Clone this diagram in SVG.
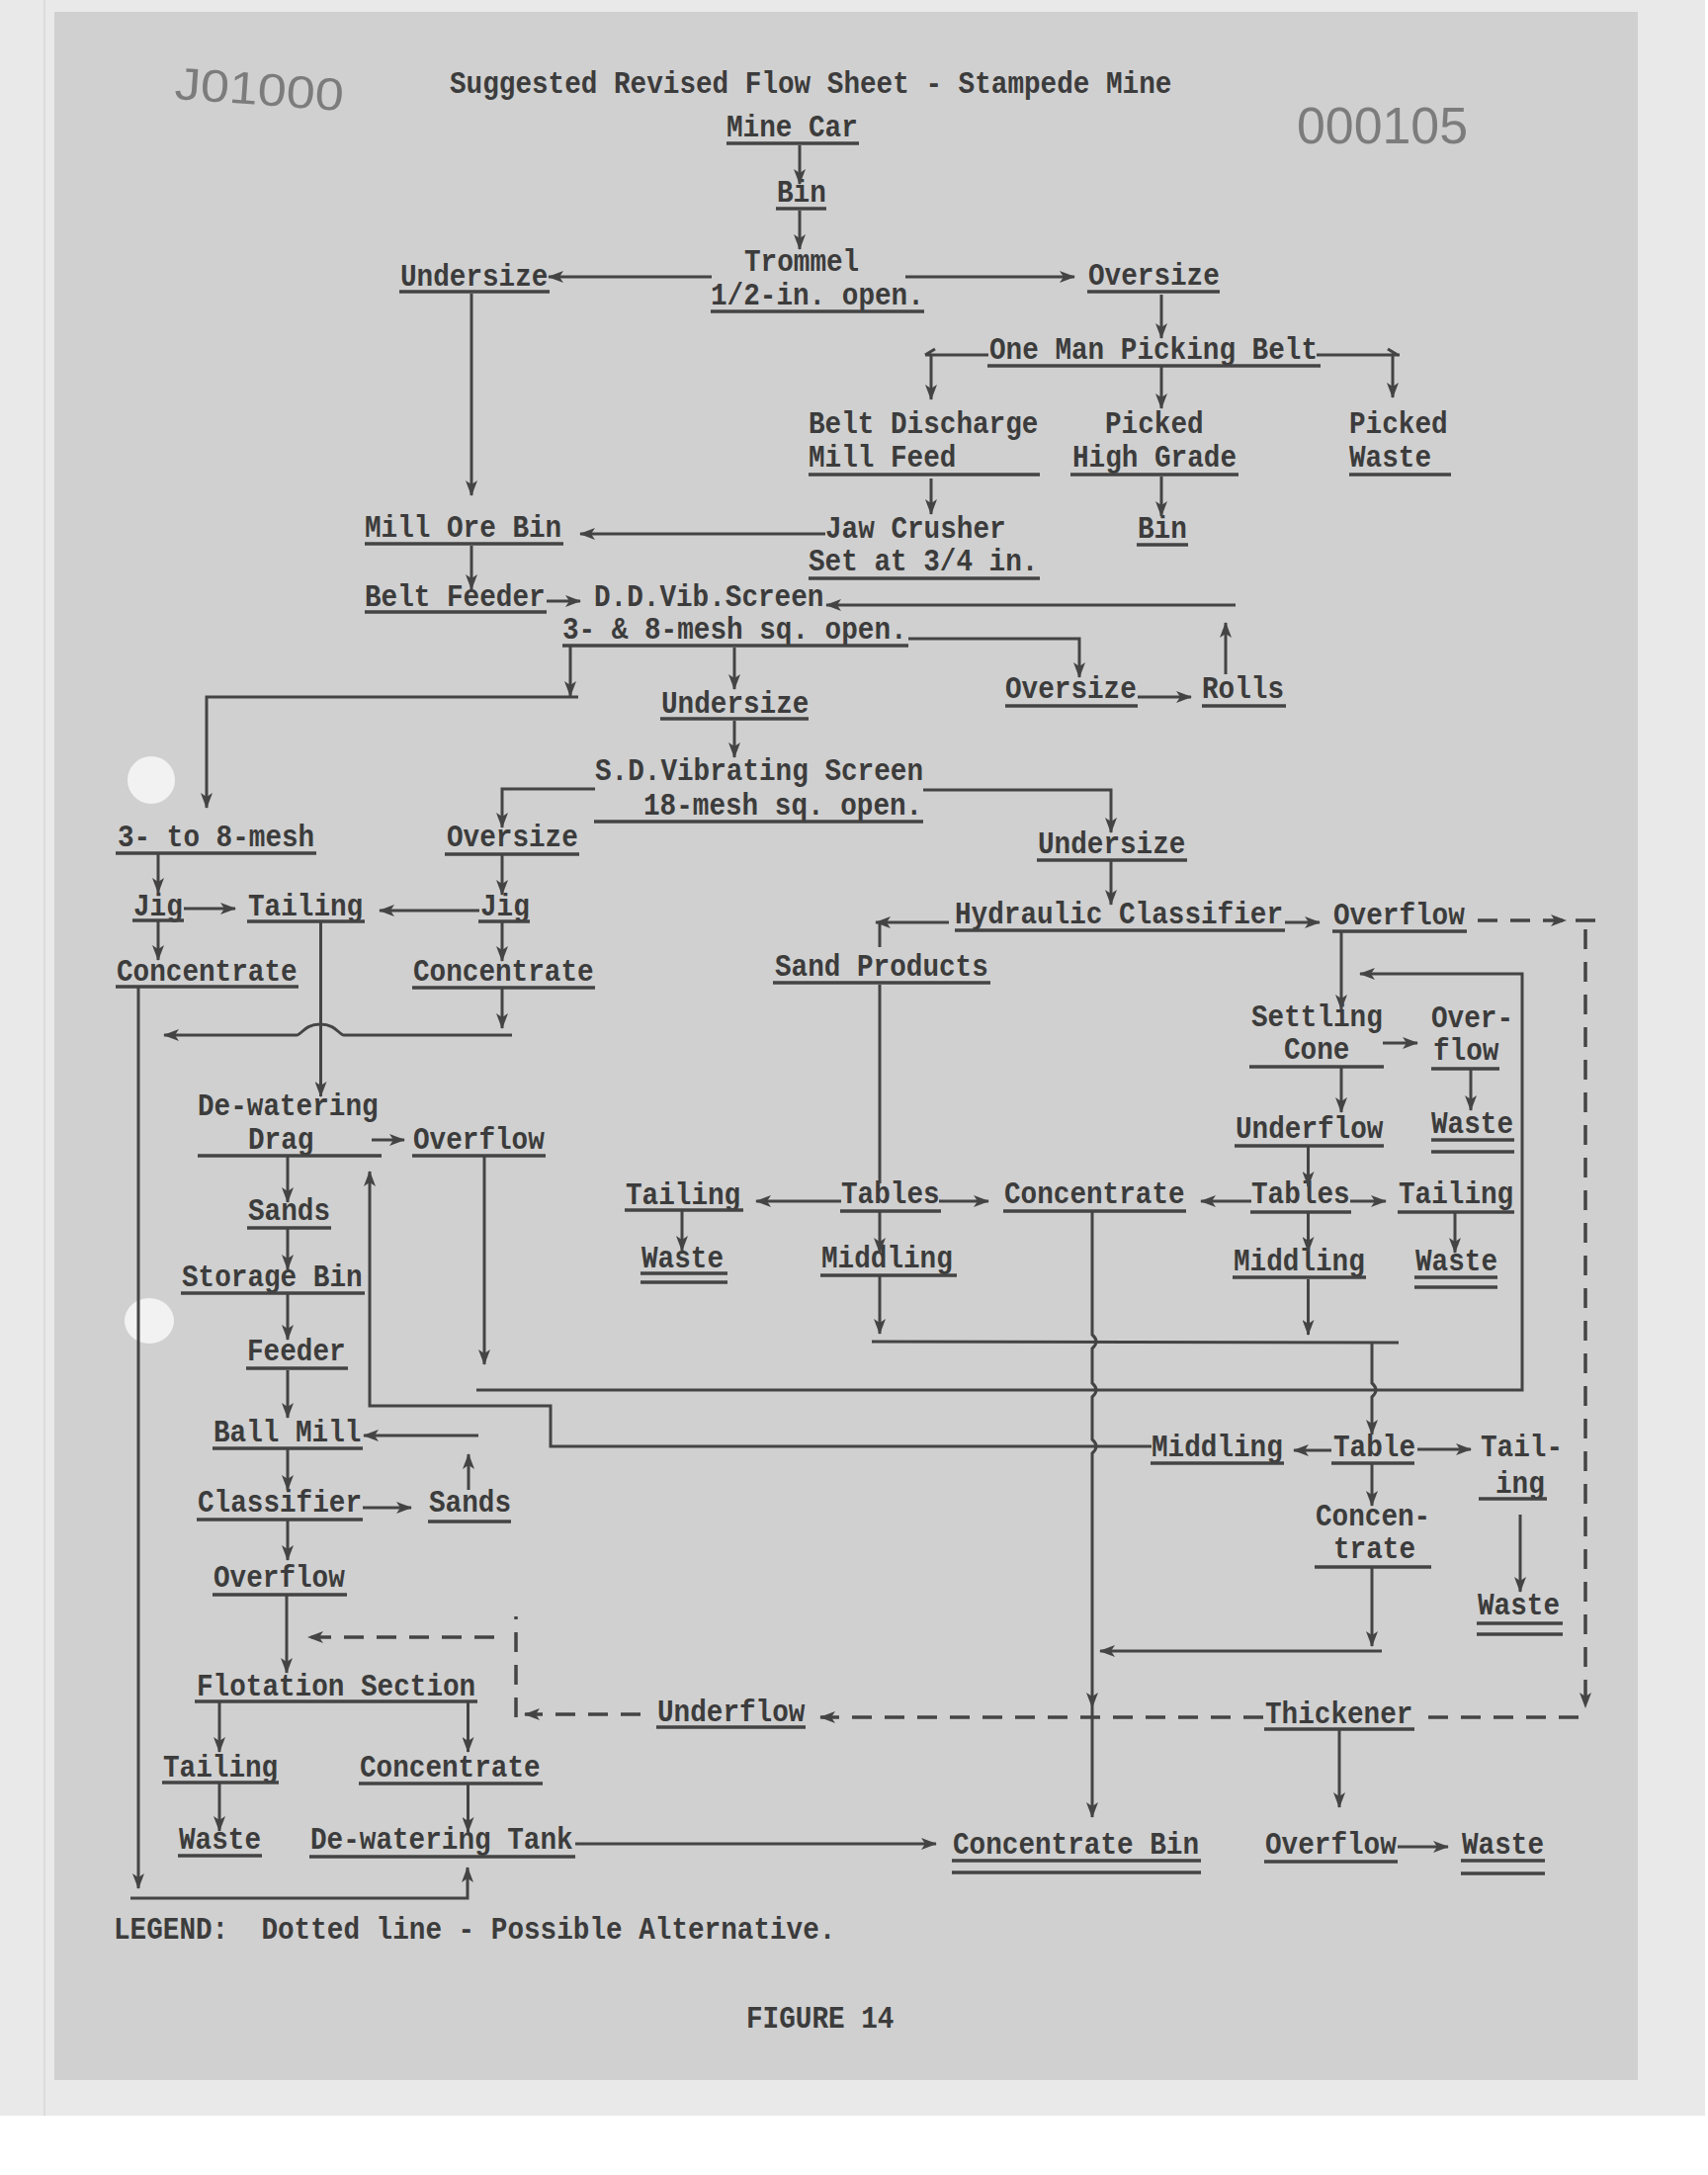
<svg xmlns="http://www.w3.org/2000/svg" width="1728" height="2200" viewBox="0 0 1728 2200">
<defs>
<style>
.t{font-family:"Liberation Mono","Courier New",monospace;font-size:31px;font-weight:bold;fill:#3c3c3c}
.u{stroke:#444;stroke-width:3.5}
.c{stroke:#444;stroke-width:3;fill:none}
.d{stroke:#444;stroke-width:3.5;fill:none;stroke-dasharray:20 13}
.ah{fill:#444}
.stamp{font-family:"Liberation Sans",Arial,sans-serif;fill:#7c7c7c}
</style>
<marker id="ah" viewBox="0 0 16 12" refX="15" refY="6" markerWidth="16" markerHeight="12" orient="auto" markerUnits="userSpaceOnUse">
<path d="M0,0 L16,6 L0,12 L4,6 z" fill="#444"/>
</marker>
</defs>

<g id="paper">
<rect x="0" y="0" width="1728" height="2200" fill="#ffffff"/>
<rect x="0" y="0" width="1725" height="2140" fill="#e9e9e9"/>
<line x1="45" y1="0" x2="45" y2="2140" stroke="#d6d6d6" stroke-width="1.5"/>
<rect x="55" y="12" width="1602" height="2092" fill="#d0d0d0"/>
<ellipse cx="153" cy="789" rx="24" ry="24" fill="#f2f2f2"/>
<ellipse cx="151" cy="1336" rx="25" ry="23" fill="#f2f2f2"/>
<text class="stamp" x="176" y="100" font-size="46" textLength="171" lengthAdjust="spacingAndGlyphs" transform="rotate(4 176 100)">J01000</text>
<text class="stamp" x="1312" y="145" font-size="52" textLength="173" lengthAdjust="spacingAndGlyphs">000105</text>
</g>

<g id="title"><text class="t" x="455" y="94" textLength="730.4" lengthAdjust="spacingAndGlyphs">Suggested Revised Flow Sheet - Stampede Mine</text></g>

<g id="n-minecar"><text class="t" x="735" y="138" textLength="132.8" lengthAdjust="spacingAndGlyphs">Mine Car</text><line class="u" x1="735" y1="145" x2="869" y2="145"/></g>
<g id="n-bin1"><text class="t" x="786" y="204" textLength="49.8" lengthAdjust="spacingAndGlyphs">Bin</text><line class="u" x1="785" y1="211" x2="836" y2="211"/></g>
<g id="n-trommel"><text class="t" x="753" y="274" textLength="116.2" lengthAdjust="spacingAndGlyphs">Trommel</text><text class="t" x="719" y="308" textLength="215.8" lengthAdjust="spacingAndGlyphs">1/2-in. open.</text><line class="u" x1="719" y1="315" x2="935" y2="315"/></g>
<g id="n-undersize1"><text class="t" x="405" y="289" textLength="149.4" lengthAdjust="spacingAndGlyphs">Undersize</text><line class="u" x1="404" y1="295" x2="556" y2="295"/></g>
<g id="n-oversize1"><text class="t" x="1101" y="288" textLength="132.8" lengthAdjust="spacingAndGlyphs">Oversize</text><line class="u" x1="1100" y1="295" x2="1234" y2="295"/></g>
<g id="n-picking"><text class="t" x="1001" y="363" textLength="332" lengthAdjust="spacingAndGlyphs">One Man Picking Belt</text><line class="u" x1="999" y1="370" x2="1336" y2="370"/></g>
<g id="n-beltdischarge"><text class="t" x="818" y="438" textLength="232.4" lengthAdjust="spacingAndGlyphs">Belt Discharge</text><text class="t" x="818" y="472" textLength="149.4" lengthAdjust="spacingAndGlyphs">Mill Feed</text><line class="u" x1="818" y1="480" x2="1052" y2="480"/></g>
<g id="n-highgrade"><text class="t" x="1118" y="438" textLength="99.6" lengthAdjust="spacingAndGlyphs">Picked</text><text class="t" x="1085" y="472" textLength="166" lengthAdjust="spacingAndGlyphs">High Grade</text><line class="u" x1="1083" y1="480" x2="1253" y2="480"/></g>
<g id="n-pickedwaste"><text class="t" x="1365" y="438" textLength="99.6" lengthAdjust="spacingAndGlyphs">Picked</text><text class="t" x="1365" y="472" textLength="83" lengthAdjust="spacingAndGlyphs">Waste</text><line class="u" x1="1365" y1="480" x2="1468" y2="480"/></g>
<g id="n-jaw"><text class="t" x="835" y="544" textLength="182.6" lengthAdjust="spacingAndGlyphs">Jaw Crusher</text><text class="t" x="818" y="577" textLength="232.4" lengthAdjust="spacingAndGlyphs">Set at 3/4 in.</text><line class="u" x1="818" y1="585" x2="1052" y2="585"/></g>
<g id="n-bin2"><text class="t" x="1151" y="544" textLength="49.8" lengthAdjust="spacingAndGlyphs">Bin</text><line class="u" x1="1150" y1="551" x2="1202" y2="551"/></g>
<g id="n-millorebin"><text class="t" x="369" y="543" textLength="199.2" lengthAdjust="spacingAndGlyphs">Mill Ore Bin</text><line class="u" x1="369" y1="550" x2="570" y2="550"/></g>
<g id="n-beltfeeder"><text class="t" x="369" y="613" textLength="182.6" lengthAdjust="spacingAndGlyphs">Belt Feeder</text><line class="u" x1="369" y1="619" x2="553" y2="619"/></g>
<g id="n-ddscreen"><text class="t" x="601" y="613" textLength="232.4" lengthAdjust="spacingAndGlyphs">D.D.Vib.Screen</text><text class="t" x="569" y="646" textLength="348.6" lengthAdjust="spacingAndGlyphs">3- &amp; 8-mesh sq. open.</text><line class="u" x1="569" y1="653" x2="919" y2="653"/></g>
<g id="n-oversize2"><text class="t" x="1017" y="706" textLength="132.8" lengthAdjust="spacingAndGlyphs">Oversize</text><line class="u" x1="1017" y1="714" x2="1151" y2="714"/></g>
<g id="n-rolls"><text class="t" x="1216" y="706" textLength="83" lengthAdjust="spacingAndGlyphs">Rolls</text><line class="u" x1="1216" y1="714" x2="1301" y2="714"/></g>
<g id="n-undersize2"><text class="t" x="669" y="721" textLength="149.4" lengthAdjust="spacingAndGlyphs">Undersize</text><line class="u" x1="668" y1="727" x2="818" y2="727"/></g>
<g id="n-sdscreen"><text class="t" x="602" y="789" textLength="332" lengthAdjust="spacingAndGlyphs">S.D.Vibrating Screen</text><text class="t" x="651" y="824" textLength="282.2" lengthAdjust="spacingAndGlyphs">18-mesh sq. open.</text><line class="u" x1="601" y1="831" x2="934" y2="831"/></g>
<g id="n-3to8"><text class="t" x="119" y="856" textLength="199.2" lengthAdjust="spacingAndGlyphs">3- to 8-mesh</text><line class="u" x1="117" y1="863" x2="320" y2="863"/></g>
<g id="n-oversize3"><text class="t" x="452" y="856" textLength="132.8" lengthAdjust="spacingAndGlyphs">Oversize</text><line class="u" x1="450" y1="864" x2="586" y2="864"/></g>
<g id="n-undersize3"><text class="t" x="1050" y="863" textLength="149.4" lengthAdjust="spacingAndGlyphs">Undersize</text><line class="u" x1="1049" y1="870" x2="1201" y2="870"/></g>
<g id="n-jig1"><text class="t" x="135" y="926" textLength="49.8" lengthAdjust="spacingAndGlyphs">Jig</text><line class="u" x1="134" y1="931" x2="186" y2="931"/></g>
<g id="n-tailing1"><text class="t" x="251" y="926" textLength="116.2" lengthAdjust="spacingAndGlyphs">Tailing</text><line class="u" x1="250" y1="932" x2="369" y2="932"/></g>
<g id="n-jig2"><text class="t" x="486" y="926" textLength="49.8" lengthAdjust="spacingAndGlyphs">Jig</text><line class="u" x1="484" y1="932" x2="536" y2="932"/></g>
<g id="n-conc1"><text class="t" x="118" y="992" textLength="182.6" lengthAdjust="spacingAndGlyphs">Concentrate</text><line class="u" x1="117" y1="998" x2="302" y2="998"/></g>
<g id="n-conc2"><text class="t" x="418" y="992" textLength="182.6" lengthAdjust="spacingAndGlyphs">Concentrate</text><line class="u" x1="417" y1="999" x2="602" y2="999"/></g>
<g id="n-hydraulic"><text class="t" x="966" y="934" textLength="332" lengthAdjust="spacingAndGlyphs">Hydraulic Classifier</text><line class="u" x1="966" y1="941" x2="1300" y2="941"/></g>
<g id="n-overflow1"><text class="t" x="1349" y="935" textLength="132.8" lengthAdjust="spacingAndGlyphs">Overflow</text><line class="u" x1="1348" y1="942" x2="1484" y2="942"/></g>
<g id="n-sandproducts"><text class="t" x="784" y="987" textLength="215.8" lengthAdjust="spacingAndGlyphs">Sand Products</text><line class="u" x1="782" y1="994" x2="1002" y2="994"/></g>
<g id="n-settling"><text class="t" x="1266" y="1038" textLength="132.8" lengthAdjust="spacingAndGlyphs">Settling</text><text class="t" x="1299" y="1071" textLength="66.4" lengthAdjust="spacingAndGlyphs">Cone</text><line class="u" x1="1264" y1="1079" x2="1400" y2="1079"/></g>
<g id="n-overflow2"><text class="t" x="1448" y="1039" textLength="83" lengthAdjust="spacingAndGlyphs">Over-</text><text class="t" x="1450" y="1072" textLength="66.4" lengthAdjust="spacingAndGlyphs">flow</text><line class="u" x1="1448" y1="1081" x2="1517" y2="1081"/></g>
<g id="n-drag"><text class="t" x="200" y="1128" textLength="182.6" lengthAdjust="spacingAndGlyphs">De-watering</text><text class="t" x="251" y="1162" textLength="66.4" lengthAdjust="spacingAndGlyphs">Drag</text><line class="u" x1="200" y1="1169" x2="386" y2="1169"/></g>
<g id="n-overflow3"><text class="t" x="418" y="1162" textLength="132.8" lengthAdjust="spacingAndGlyphs">Overflow</text><line class="u" x1="417" y1="1169" x2="552" y2="1169"/></g>
<g id="n-underflow1"><text class="t" x="1250" y="1151" textLength="149.4" lengthAdjust="spacingAndGlyphs">Underflow</text><line class="u" x1="1249" y1="1159" x2="1400" y2="1159"/></g>
<g id="n-waste1"><text class="t" x="1448" y="1146" textLength="83" lengthAdjust="spacingAndGlyphs">Waste</text><line class="u" x1="1448" y1="1153" x2="1532" y2="1153"/><line class="u" x1="1448" y1="1165" x2="1532" y2="1165"/></g>
<g id="n-tailing2"><text class="t" x="633" y="1218" textLength="116.2" lengthAdjust="spacingAndGlyphs">Tailing</text><line class="u" x1="632" y1="1224" x2="752" y2="1224"/></g>
<g id="n-tables1"><text class="t" x="851" y="1217" textLength="99.6" lengthAdjust="spacingAndGlyphs">Tables</text><line class="u" x1="850" y1="1225" x2="952" y2="1225"/></g>
<g id="n-conc3"><text class="t" x="1016" y="1217" textLength="182.6" lengthAdjust="spacingAndGlyphs">Concentrate</text><line class="u" x1="1015" y1="1225" x2="1200" y2="1225"/></g>
<g id="n-tables2"><text class="t" x="1266" y="1217" textLength="99.6" lengthAdjust="spacingAndGlyphs">Tables</text><line class="u" x1="1265" y1="1226" x2="1367" y2="1226"/></g>
<g id="n-tailing3"><text class="t" x="1415" y="1217" textLength="116.2" lengthAdjust="spacingAndGlyphs">Tailing</text><line class="u" x1="1414" y1="1226" x2="1532" y2="1226"/></g>
<g id="n-sands1"><text class="t" x="251" y="1234" textLength="83" lengthAdjust="spacingAndGlyphs">Sands</text><line class="u" x1="250" y1="1242" x2="335" y2="1242"/></g>
<g id="n-waste2"><text class="t" x="649" y="1282" textLength="83" lengthAdjust="spacingAndGlyphs">Waste</text><line class="u" x1="648" y1="1288" x2="736" y2="1288"/><line class="u" x1="648" y1="1297" x2="736" y2="1297"/></g>
<g id="n-middling1"><text class="t" x="831" y="1282" textLength="132.8" lengthAdjust="spacingAndGlyphs">Middling</text><line class="u" x1="830" y1="1290" x2="968" y2="1290"/></g>
<g id="n-middling2"><text class="t" x="1248" y="1285" textLength="132.8" lengthAdjust="spacingAndGlyphs">Middling</text><line class="u" x1="1247" y1="1292" x2="1382" y2="1292"/></g>
<g id="n-waste3"><text class="t" x="1432" y="1285" textLength="83" lengthAdjust="spacingAndGlyphs">Waste</text><line class="u" x1="1431" y1="1292" x2="1515" y2="1292"/><line class="u" x1="1431" y1="1302" x2="1515" y2="1302"/></g>
<g id="n-storagebin"><text class="t" x="184" y="1301" textLength="182.6" lengthAdjust="spacingAndGlyphs">Storage Bin</text><line class="u" x1="183" y1="1308" x2="369" y2="1308"/></g>
<g id="n-feeder"><text class="t" x="250" y="1376" textLength="99.6" lengthAdjust="spacingAndGlyphs">Feeder</text><line class="u" x1="249" y1="1384" x2="352" y2="1384"/></g>
<g id="n-ballmill"><text class="t" x="216" y="1458" textLength="149.4" lengthAdjust="spacingAndGlyphs">Ball Mill</text><line class="u" x1="215" y1="1465" x2="367" y2="1465"/></g>
<g id="n-middling3"><text class="t" x="1165" y="1473" textLength="132.8" lengthAdjust="spacingAndGlyphs">Middling</text><line class="u" x1="1164" y1="1480" x2="1299" y2="1480"/></g>
<g id="n-table"><text class="t" x="1349" y="1473" textLength="83" lengthAdjust="spacingAndGlyphs">Table</text><line class="u" x1="1347" y1="1480" x2="1431" y2="1480"/></g>
<g id="n-tailing4"><text class="t" x="1498" y="1473" textLength="83" lengthAdjust="spacingAndGlyphs">Tail-</text><text class="t" x="1513" y="1510" textLength="49.8" lengthAdjust="spacingAndGlyphs">ing</text><line class="u" x1="1496" y1="1516" x2="1565" y2="1516"/></g>
<g id="n-classifier"><text class="t" x="200" y="1529" textLength="166" lengthAdjust="spacingAndGlyphs">Classifier</text><line class="u" x1="199" y1="1537" x2="367" y2="1537"/></g>
<g id="n-sands2"><text class="t" x="434" y="1529" textLength="83" lengthAdjust="spacingAndGlyphs">Sands</text><line class="u" x1="433" y1="1539" x2="517" y2="1539"/></g>
<g id="n-conc4"><text class="t" x="1331" y="1543" textLength="116.2" lengthAdjust="spacingAndGlyphs">Concen-</text><text class="t" x="1349" y="1576" textLength="83" lengthAdjust="spacingAndGlyphs">trate</text><line class="u" x1="1330" y1="1585" x2="1448" y2="1585"/></g>
<g id="n-overflow4"><text class="t" x="216" y="1605" textLength="132.8" lengthAdjust="spacingAndGlyphs">Overflow</text><line class="u" x1="215" y1="1613" x2="351" y2="1613"/></g>
<g id="n-waste4"><text class="t" x="1495" y="1633" textLength="83" lengthAdjust="spacingAndGlyphs">Waste</text><line class="u" x1="1494" y1="1642" x2="1581" y2="1642"/><line class="u" x1="1494" y1="1653" x2="1581" y2="1653"/></g>
<g id="n-flotation"><text class="t" x="199" y="1715" textLength="282.2" lengthAdjust="spacingAndGlyphs">Flotation Section</text><line class="u" x1="197" y1="1721" x2="483" y2="1721"/></g>
<g id="n-underflow2"><text class="t" x="665" y="1741" textLength="149.4" lengthAdjust="spacingAndGlyphs">Underflow</text><line class="u" x1="664" y1="1747" x2="815" y2="1747"/></g>
<g id="n-thickener"><text class="t" x="1280" y="1743" textLength="149.4" lengthAdjust="spacingAndGlyphs">Thickener</text><line class="u" x1="1279" y1="1749" x2="1431" y2="1749"/></g>
<g id="n-tailing5"><text class="t" x="165" y="1797" textLength="116.2" lengthAdjust="spacingAndGlyphs">Tailing</text><line class="u" x1="164" y1="1803" x2="282" y2="1803"/></g>
<g id="n-conc5"><text class="t" x="364" y="1797" textLength="182.6" lengthAdjust="spacingAndGlyphs">Concentrate</text><line class="u" x1="363" y1="1804" x2="549" y2="1804"/></g>
<g id="n-waste5"><text class="t" x="181" y="1870" textLength="83" lengthAdjust="spacingAndGlyphs">Waste</text><line class="u" x1="180" y1="1877" x2="265" y2="1877"/></g>
<g id="n-dwtank"><text class="t" x="314" y="1870" textLength="265.6" lengthAdjust="spacingAndGlyphs">De-watering Tank</text><line class="u" x1="313" y1="1878" x2="582" y2="1878"/></g>
<g id="n-concbin"><text class="t" x="964" y="1875" textLength="249" lengthAdjust="spacingAndGlyphs">Concentrate Bin</text><line class="u" x1="963" y1="1882" x2="1215" y2="1882"/><line class="u" x1="963" y1="1894" x2="1215" y2="1894"/></g>
<g id="n-overflow5"><text class="t" x="1280" y="1875" textLength="132.8" lengthAdjust="spacingAndGlyphs">Overflow</text><line class="u" x1="1279" y1="1883" x2="1414" y2="1883"/></g>
<g id="n-waste6"><text class="t" x="1479" y="1875" textLength="83" lengthAdjust="spacingAndGlyphs">Waste</text><line class="u" x1="1478" y1="1882" x2="1563" y2="1882"/><line class="u" x1="1478" y1="1895" x2="1563" y2="1895"/></g>

<g id="legend"><text class="t" x="115" y="1961" xml:space="preserve" textLength="730.4" lengthAdjust="spacingAndGlyphs">LEGEND:  Dotted line - Possible Alternative.</text></g>
<g id="figure"><text class="t" x="755" y="2051" textLength="149.4" lengthAdjust="spacingAndGlyphs">FIGURE 14</text></g>

<g id="connectors">
<path class="c" d="M809,147 L809,186" marker-end="url(#ah)"/>
<path class="c" d="M809,213 L809,252" marker-end="url(#ah)"/>
<path class="c" d="M720,280 L555,280" marker-end="url(#ah)"/>
<path class="c" d="M916,280 L1087,280" marker-end="url(#ah)"/>
<path class="c" d="M1175,298 L1175,342" marker-end="url(#ah)"/>
<path class="c" d="M1000,359 L936,359 M936,359 L946,353"/>
<path class="c" d="M1332,359 L1416,359 M1404,353 L1414,359"/>
<path class="c" d="M942,359 L942,404" marker-end="url(#ah)"/>
<path class="c" d="M1409,359 L1409,402" marker-end="url(#ah)"/>
<path class="c" d="M1175,371 L1175,413" marker-end="url(#ah)"/>
<path class="c" d="M942,484 L942,520" marker-end="url(#ah)"/>
<path class="c" d="M1175,482 L1175,522" marker-end="url(#ah)"/>
<path class="c" d="M835,540 L587,540" marker-end="url(#ah)"/>
<path class="c" d="M477,297 L477,501" marker-end="url(#ah)"/>
<path class="c" d="M477,552 L477,596" marker-end="url(#ah)"/>
<path class="c" d="M553,608 L587,608" marker-end="url(#ah)"/>
<path class="c" d="M1240,682 L1240,630" marker-end="url(#ah)"/>
<path class="c" d="M1250,612 L836,612" marker-end="url(#ah)"/>
<path class="c" d="M919,646 L1092,646 L1092,685" marker-end="url(#ah)"/>
<path class="c" d="M577,654 L577,704" marker-end="url(#ah)"/>
<path class="c" d="M743,655 L743,697" marker-end="url(#ah)"/>
<path class="c" d="M585,705 L209,705 L209,817" marker-end="url(#ah)"/>
<path class="c" d="M1151,705 L1205,705" marker-end="url(#ah)"/>
<path class="c" d="M743,729 L743,766" marker-end="url(#ah)"/>
<path class="c" d="M602,798 L508,798 L508,837" marker-end="url(#ah)"/>
<path class="c" d="M934,799 L1124,799 L1124,842" marker-end="url(#ah)"/>
<path class="c" d="M160,864 L160,903" marker-end="url(#ah)"/>
<path class="c" d="M186,919 L238,919" marker-end="url(#ah)"/>
<path class="c" d="M485,921 L384,921" marker-end="url(#ah)"/>
<path class="c" d="M508,865 L508,905" marker-end="url(#ah)"/>
<path class="c" d="M160,932 L160,971" marker-end="url(#ah)"/>
<path class="c" d="M508,933 L508,972" marker-end="url(#ah)"/>
<path class="c" d="M508,1000 L508,1040" marker-end="url(#ah)"/>
<path class="c" d="M518,1047 L348,1047 C343,1047 340,1036 324,1036 C308,1036 305,1047 300,1047 L166,1047" marker-end="url(#ah)"/>
<path class="c" d="M324.5,933 L324.5,1109" marker-end="url(#ah)"/>
<path class="c" d="M140,999 L140,1910" marker-end="url(#ah)"/>
<path class="c" d="M132,1920 L473,1920 L473,1889" marker-end="url(#ah)"/>
<path class="c" d="M376,1153 L409,1153" marker-end="url(#ah)"/>
<path class="c" d="M291,1170 L291,1216" marker-end="url(#ah)"/>
<path class="c" d="M291,1243 L291,1284" marker-end="url(#ah)"/>
<path class="c" d="M291,1309 L291,1355" marker-end="url(#ah)"/>
<path class="c" d="M291,1386 L291,1434" marker-end="url(#ah)"/>
<path class="c" d="M291,1466 L291,1507" marker-end="url(#ah)"/>
<path class="c" d="M291,1538 L291,1578" marker-end="url(#ah)"/>
<path class="c" d="M290,1614 L290,1692" marker-end="url(#ah)"/>
<path class="c" d="M367,1525 L416,1525" marker-end="url(#ah)"/>
<path class="c" d="M474,1507 L474,1471" marker-end="url(#ah)"/>
<path class="c" d="M484,1452 L368,1452" marker-end="url(#ah)"/>
<path class="c" d="M1165,1463 L557,1463 L557,1422 L374,1422 L374,1185" marker-end="url(#ah)"/>
<path class="c" d="M490,1170 L490,1380" marker-end="url(#ah)"/>
<path class="c" d="M482,1406 L1540,1406 L1540,985 L1376,985" marker-end="url(#ah)"/>
<path class="c" d="M960,933 L886,933" marker-end="url(#ah)"/>
<path class="c" d="M890,933 L890,958 M890,996 L890,1197"/>
<path class="c" d="M1124,871 L1124,915" marker-end="url(#ah)"/>
<path class="c" d="M1300,933 L1335,933" marker-end="url(#ah)"/>
<path class="c" d="M1357,943 L1357,1021" marker-end="url(#ah)"/>
<path class="c" d="M1399,1055 L1434,1055" marker-end="url(#ah)"/>
<path class="c" d="M1357,1080 L1357,1125" marker-end="url(#ah)"/>
<path class="c" d="M1488,1082 L1488,1123" marker-end="url(#ah)"/>
<path class="c" d="M1323.5,1160 L1323.5,1200" marker-end="url(#ah)"/>
<path class="c" d="M851,1215 L765,1215" marker-end="url(#ah)"/>
<path class="c" d="M950,1215 L1000,1215" marker-end="url(#ah)"/>
<path class="c" d="M1266,1215 L1215,1215" marker-end="url(#ah)"/>
<path class="c" d="M1366,1215 L1402,1215" marker-end="url(#ah)"/>
<path class="c" d="M690,1225 L690,1265" marker-end="url(#ah)"/>
<path class="c" d="M890,1226 L890,1267" marker-end="url(#ah)"/>
<path class="c" d="M1472,1227 L1472,1267" marker-end="url(#ah)"/>
<path class="c" d="M1323.5,1227 L1323.5,1266" marker-end="url(#ah)"/>
<path class="c" d="M890,1291 L890,1349" marker-end="url(#ah)"/>
<path class="c" d="M1323.5,1294 L1323.5,1350" marker-end="url(#ah)"/>
<path class="c" d="M882,1357 L1415,1358"/>
<path class="c" d="M1388,1358 L1388,1399 Q1396,1406 1388,1413 L1388,1451" marker-end="url(#ah)"/>
<path class="c" d="M1105,1225 L1105,1350 Q1113,1357 1105,1364 L1105,1399 Q1113,1406 1105,1413 L1105,1456 Q1113,1463 1105,1470 L1105,1838" marker-end="url(#ah)"/>
<path class="ah" d="M1099,1712 L1105,1728 L1111,1712 L1105,1716 z"/>
<path class="c" d="M1347,1467 L1309,1467" marker-end="url(#ah)"/>
<path class="c" d="M1434,1466 L1488,1466" marker-end="url(#ah)"/>
<path class="c" d="M1388,1481 L1388,1523" marker-end="url(#ah)"/>
<path class="c" d="M1388,1586 L1388,1665" marker-end="url(#ah)"/>
<path class="c" d="M1398,1670 L1113,1670" marker-end="url(#ah)"/>
<path class="c" d="M1538,1532 L1538,1610" marker-end="url(#ah)"/>
<path class="c" d="M222,1722 L222,1772" marker-end="url(#ah)"/>
<path class="c" d="M473.5,1722 L473.5,1772" marker-end="url(#ah)"/>
<path class="c" d="M222,1804 L222,1852" marker-end="url(#ah)"/>
<path class="c" d="M473.5,1805 L473.5,1853" marker-end="url(#ah)"/>
<path class="c" d="M582,1865 L947,1865" marker-end="url(#ah)"/>
<path class="c" d="M1355,1750 L1355,1828" marker-end="url(#ah)"/>
<path class="c" d="M1414,1868 L1465,1868" marker-end="url(#ah)"/>
<path class="d" d="M1495,931 L1615,931"/>
<path class="ah" d="M1569,925 L1585,931 L1569,937 L1573,931 z"/>
<path class="d" d="M1604,940 L1604,1727" marker-end="url(#ah)"/>
<path class="d" d="M1597,1737 L1444,1737"/>
<path class="d" d="M1278,1737 L830,1737" marker-end="url(#ah)"/>
<path class="d" d="M648,1734 L531,1734" marker-end="url(#ah)"/>
<path class="d" d="M522,1737 L522,1635"/>
<path class="d" d="M500,1656 L312,1656" marker-end="url(#ah)"/>
</g>
</svg>
